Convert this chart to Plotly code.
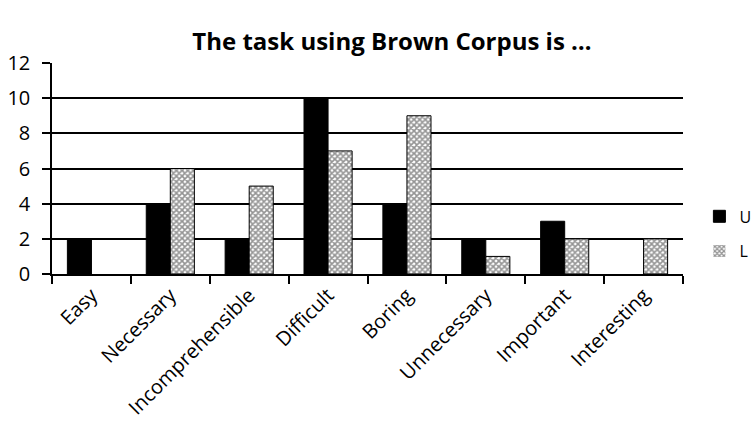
import plotly.graph_objects as go

categories = ["Easy", "Necessary", "Incomprehensible", "Difficult", "Boring",
              "Unnecessary", "Important", "Interesting"]
u_values = [2, 4, 2, 10, 4, 2, 3, 0]
l_values = [0, 6, 5, 7, 9, 1, 2, 2]
y_ticks = [0, 2, 4, 6, 8, 10, 12]

font_family = "Open Sans, Liberation Sans, sans-serif"


def outline_widths(values):
    # no outline for empty bars so zero values leave no stub on the axis
    return [0 if v == 0 else 1 for v in values]


fig = go.Figure()
fig.add_trace(go.Bar(
    x=categories, y=u_values, name="U", legendgroup="U",
    marker=dict(color="black",
                line=dict(color="black", width=outline_widths(u_values))),
))
fig.add_trace(go.Bar(
    x=categories, y=l_values, name="L", legendgroup="L",
    marker=dict(
        color="white",
        line=dict(color="black", width=outline_widths(l_values)),
        pattern=dict(shape="x", size=4, solidity=0.65,
                     fgcolor="#2a2a2a", bgcolor="white", fillmode="overlay"),
    ),
))

fig.update_layout(
    width=755, height=429,
    margin=dict(l=52, r=72, t=63, b=155, autoexpand=False),
    paper_bgcolor="white", plot_bgcolor="white",
    barmode="group", bargap=0.39, bargroupgap=0,
    font=dict(family=font_family, size=19, color="black"),
    title=dict(text="<b>The task using Brown Corpus is …</b>",
               x=392 / 755, xanchor="center", y=1 - 42 / 429, yanchor="middle",
               font=dict(size=24, family=font_family)),
    showlegend=True,
    legend=dict(x=1.026, xanchor="left", y=0.19, yanchor="middle",
                tracegroupgap=11, font=dict(size=16),
                itemwidth=30),
)
fig.update_xaxes(
    type="category", tickangle=-45, tickson="boundaries",
    ticks="outside", ticklen=8, tickcolor="black", tickwidth=1.5,
    showline=True, linecolor="black", linewidth=1.5,
    showgrid=False, tickfont=dict(size=20),
)
fig.update_yaxes(
    range=[0, 12], tickvals=y_ticks,
    ticks="outside", ticklen=8, tickcolor="black", tickwidth=1.5,
    showline=True, linecolor="black", linewidth=1.5,
    showgrid=True, gridcolor="black", gridwidth=1.5,
    zeroline=False, tickfont=dict(size=20), ticklabelstandoff=8,
)

fig.write_html("out.html")
